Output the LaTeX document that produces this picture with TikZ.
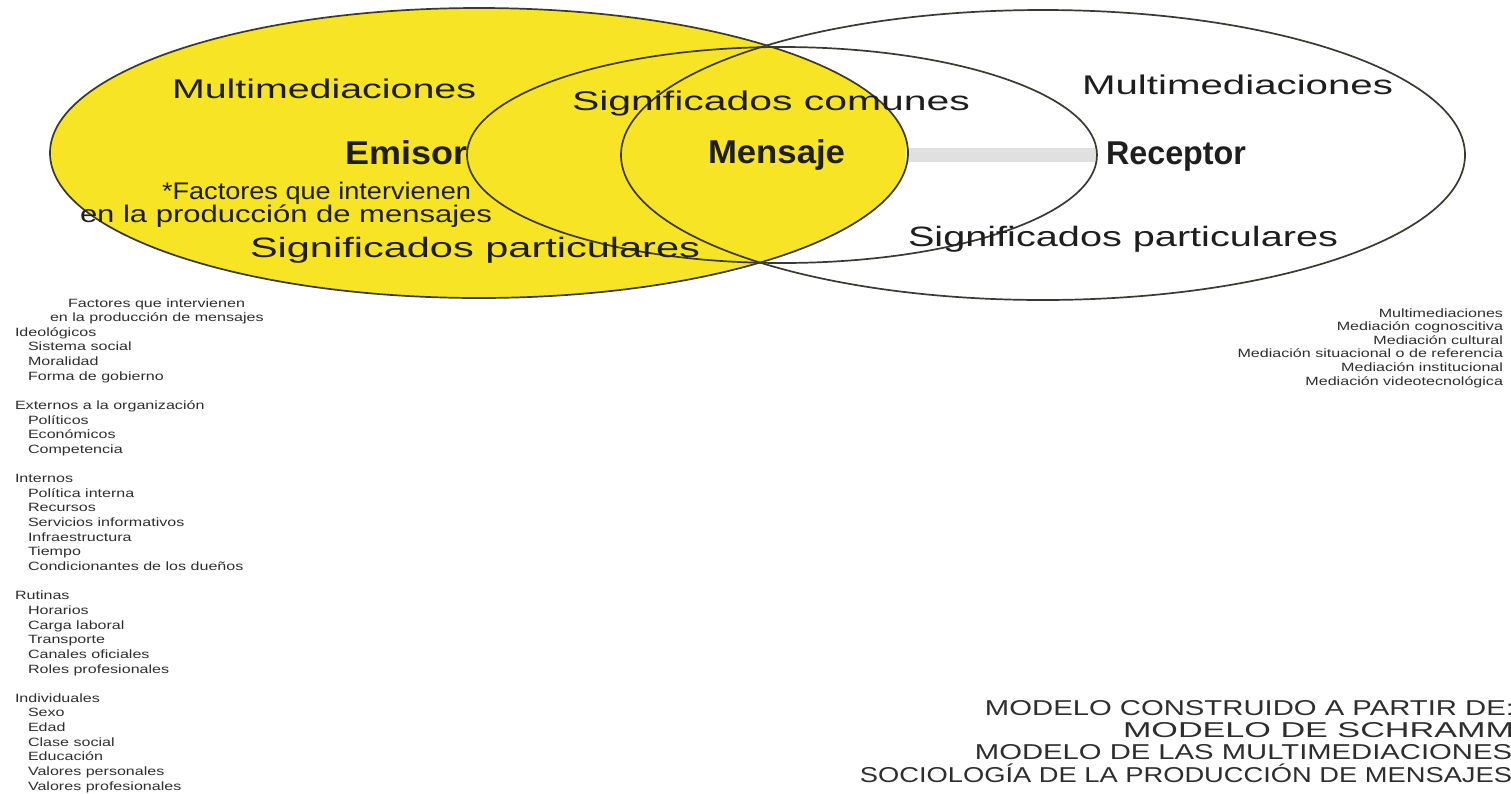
\documentclass[tikz,border=0pt]{standalone}
\usepackage{fontspec}
\setmainfont{Liberation Sans}
\usepackage{graphicx}
\definecolor{emyellow}{HTML}{F7E425}
\definecolor{linegray}{HTML}{3A3A30}
\definecolor{txtgray}{HTML}{1E1E1E}
\definecolor{listgray}{HTML}{2E2E2E}
\definecolor{bargray}{HTML}{E0E0E0}
\newcommand\fitw[3]{\resizebox{#1pt}{\height}{\fontsize{#2pt}{#2pt}\selectfont #3}}
\newcommand\smalltxt[1]{\scalebox{1.34}[1]{\fontsize{12pt}{12pt}\selectfont #1}}
\begin{document}
\begin{tikzpicture}[x=1pt,y=-1pt,
  txt/.style={inner sep=0pt, outer sep=0pt, text=txtgray},
  small/.style={inner sep=0pt, outer sep=0pt, text=listgray},
  venn/.style={draw=linegray, line width=1.7pt}]
\fill[white] (0,0) rectangle (1511,793);
\useasboundingbox (0,0) rectangle (1511,793);
% circles
\fill[emyellow] (479,153) ellipse [x radius=429, y radius=145];
\fill[bargray] (905,148) rectangle (1097,162);
\draw[venn] (479,153) ellipse [x radius=429, y radius=145];
\draw[venn] (782,155) ellipse [x radius=315, y radius=108];
\draw[venn] (1043,155) ellipse [x radius=422, y radius=145];
% big labels
\node[txt, anchor=base west] (multiL) at (172,98) {\fitw{304}{27}{Multimediaciones}};
\node[txt, anchor=base west] (comunes) at (572,110) {\fitw{398}{27}{Significados comunes}};
\node[txt, anchor=base west] (multiR) at (1082,94) {\fitw{311}{27}{Multimediaciones}};
\node[txt, anchor=base west] (emisor) at (345,164) {\fitw{122}{33}{\bfseries Emisor}};
\node[txt, anchor=base west] (mensaje) at (708,163) {\fitw{137}{33}{\bfseries Mensaje}};
\node[txt, anchor=base west] (receptor) at (1106,164) {\fitw{140}{33}{\bfseries Receptor}};
\node[txt, anchor=base west] (fact1) at (162,199) {\fitw{309}{24}{*Factores que intervienen}};
\node[txt, anchor=base west] (fact2) at (80,222) {\fitw{412}{24}{en la producción de mensajes}};
\node[txt, anchor=base west] (partL) at (250,257) {\fitw{450}{28}{Significados particulares}};
\node[txt, anchor=base west] (partR) at (908,246) {\fitw{430}{28}{Significados particulares}};
% left list
\foreach \k/\xx/\t in {0/68/Factores que intervienen, 1/50/en la producción de mensajes,
  2/15/Ideológicos, 3/28/Sistema social, 4/28/Moralidad, 5/28/Forma de gobierno,
  7/15/Externos a la organización, 8/28/Políticos, 9/28/Económicos, 10/28/Competencia,
  12/15/Internos, 13/28/Política interna, 14/28/Recursos, 15/28/Servicios informativos,
  16/28/Infraestructura, 17/28/Tiempo, 18/28/Condicionantes de los dueños,
  20/15/Rutinas, 21/28/Horarios, 22/28/Carga laboral, 23/28/Transporte,
  24/28/Canales oficiales, 25/28/Roles profesionales,
  27/15/Individuales, 28/28/Sexo, 29/28/Edad, 30/28/Clase social, 31/28/Educación,
  32/28/Valores personales, 33/28/Valores profesionales}
  \node[small, anchor=base west] (L\k) at ({\xx},{307+14.64*\k}) {\smalltxt{\t}};
% right list
\foreach \k/\t in {0/Multimediaciones, 1/Mediación cognoscitiva, 2/Mediación cultural,
  3/Mediación situacional o de referencia, 4/Mediación institucional,
  5/Mediación videotecnológica}
  \node[small, anchor=base east] (R\k) at (1503,{317+13.6*\k}) {\smalltxt{\t}};
% bottom right
\node[small, anchor=base east] (m1) at (1514,715) {\fitw{529}{21.5}{MODELO CONSTRUIDO A PARTIR DE:}};
\node[small, anchor=base east] (m2) at (1514,737) {\fitw{391}{21.5}{MODELO DE SCHRAMM}};
\node[small, anchor=base east] (m3) at (1512,759) {\fitw{537}{21.5}{MODELO DE LAS MULTIMEDIACIONES}};
\node[small, anchor=base east] (m4) at (1512,782) {\fitw{652}{21.5}{SOCIOLOGÍA DE LA PRODUCCIÓN DE MENSAJES}};
\end{tikzpicture}
\end{document}
